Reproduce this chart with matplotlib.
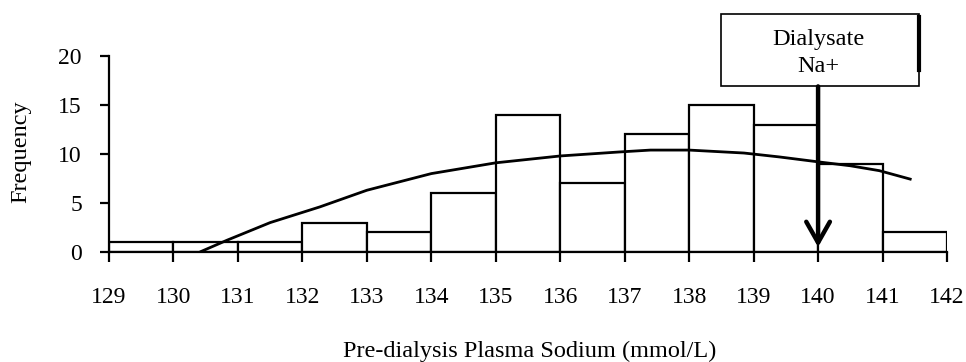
import matplotlib
matplotlib.use("Agg")
import matplotlib.pyplot as plt
from matplotlib.patches import Rectangle

plt.rcParams['font.family'] = ['Liberation Serif', 'DejaVu Serif']

bin_edges = [129, 130, 131, 132, 133, 134, 135, 136, 137, 138, 139, 140, 141, 142]
frequencies = [1, 1, 1, 3, 2, 6, 14, 7, 12, 15, 13, 9, 2]

curve_x = [130.41, 130.83, 131.5, 132.27, 133.0, 134.0, 135.0, 136.0, 136.9, 137.4,
           138.0, 138.85, 139.4, 140.0, 140.5, 140.95, 141.45]
curve_y = [0.0, 1.2, 3.0, 4.6, 6.3, 8.0, 9.1, 9.8, 10.2, 10.4,
           10.4, 10.1, 9.7, 9.2, 8.8, 8.3, 7.4]

dialysate_na = 140
x_ticks = list(range(129, 143))
y_ticks = [0, 5, 10, 15, 20]

fig = plt.figure(figsize=(9.66, 3.62), dpi=100)
ax = fig.add_axes([109/966, 1-252/362, (947-109)/966, (252-56)/362])

lefts = bin_edges[:-1]
widths = [b - a for a, b in zip(bin_edges[:-1], bin_edges[1:])]
ax.bar(lefts, frequencies, width=widths, align='edge', facecolor='white',
       edgecolor='black', linewidth=1.6, zorder=2)
ax.plot(curve_x, curve_y, color='black', lw=2.0, zorder=3, solid_capstyle='butt')

ax.set_xlim(129, 142)
ax.set_ylim(0, 20)
ax.set_xticks(x_ticks)
ax.set_yticks(y_ticks)
ax.tick_params(axis='x', direction='out', length=7, width=1.6, pad=18, labelsize=17)
ax.tick_params(axis='y', direction='out', length=6.5, width=1.6, pad=13, labelsize=17)
for s in ['top', 'right']:
    ax.spines[s].set_visible(False)
for s in ['left', 'bottom']:
    ax.spines[s].set_linewidth(1.6)
ax.spines['bottom'].set_zorder(4)

ax.set_xlabel('Pre-dialysis Plasma Sodium (mmol/L)', fontsize=17.5, va='baseline')
ax.xaxis.set_label_coords(530/966, 1-357/362, transform=fig.transFigure)
ax.set_ylabel('Frequency', fontsize=17.5, va='center')
ax.yaxis.set_label_coords(21/966, 1-152/362, transform=fig.transFigure)

# annotation box
box = Rectangle((138.49, 16.9), 141.56 - 138.49, 24.3 - 16.9, facecolor='white',
                edgecolor='black', lw=1.2, clip_on=False, zorder=5)
ax.add_patch(box)
ax.plot([141.56, 141.56], [18.6, 24.0], color='black', lw=3, clip_on=False, zorder=6)
ax.text(dialysate_na, 21.17, 'Dialysate', ha='center', va='baseline', fontsize=17.5,
        zorder=7, clip_on=False)
ax.text(dialysate_na, 18.37, 'Na+', ha='center', va='baseline', fontsize=17.5,
        zorder=7, clip_on=False)
ax.annotate('', xy=(dialysate_na, 0.5), xytext=(dialysate_na, 16.9),
            arrowprops=dict(arrowstyle='->,head_length=1.5,head_width=0.85', lw=3.2,
                            color='black', shrinkA=0, shrinkB=0),
            zorder=6, annotation_clip=False)

fig.savefig('out.png', dpi=100)
